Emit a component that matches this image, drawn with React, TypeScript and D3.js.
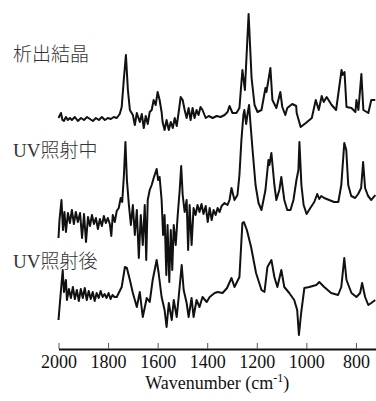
import * as React from "react";
import * as d3 from "d3";

type Pt = [number, number];

const xTicks = [2000, 1800, 1600, 1400, 1200, 1000, 800];
const seriesNames = ["析出結晶", "UV照射中", "UV照射後"];

// [wavenumber, intensity (a.u.)]
const crystal: Pt[] = [
  [2000, 0], [1990, 5], [1984, -2], [1978, -3], [1970, 1], [1962, -2], [1954, 0], [1946, -2],
  [1934, 1], [1922, -3], [1909, 0], [1897, -2], [1885, 1], [1873, -1], [1861, -3], [1849, 0],
  [1837, -2], [1825, 1], [1813, -2], [1801, 0], [1789, -1], [1777, 1], [1765, 0], [1753, 4],
  [1745, 11], [1736, 40], [1728, 63], [1720, 28], [1712, 8], [1700, 3], [1692, -7], [1684, 5],
  [1672, -4], [1664, 4], [1656, -10], [1648, 2], [1640, -6], [1632, 6], [1624, 8], [1616, 18],
  [1608, 13], [1600, 26], [1592, 18], [1584, 6], [1580, -4], [1572, -12], [1564, -2], [1555, -12],
  [1547, -4], [1539, -10], [1531, 0], [1523, -8], [1515, 6], [1507, 21], [1499, 18], [1491, 8],
  [1483, 0], [1475, 10], [1467, -2], [1459, 10], [1451, 0], [1443, 8], [1435, 3], [1427, 11],
  [1419, 8], [1406, 0], [1394, 2], [1378, 0], [1362, 2], [1346, 1], [1330, 3], [1318, 6],
  [1310, 12], [1298, 5], [1282, 5], [1270, 10], [1258, 48], [1248, 28], [1233, 104], [1221, 40],
  [1209, 13], [1197, 6], [1181, 8], [1165, 30], [1161, 26], [1145, 50], [1137, 18], [1121, 10],
  [1105, 26], [1097, 11], [1085, 3], [1077, 10], [1057, 14], [1041, 12], [1039, 5], [1023, -9],
  [1002, -5], [978, 0], [962, 18], [950, 8], [938, 22], [930, 16], [918, 21], [898, 13],
  [880, 8], [858, 48], [854, 43], [846, 46], [838, 11], [818, 10], [802, 6], [798, 18],
  [790, 8], [778, 44], [770, 8], [750, 5], [738, 18], [722, 18],
];

const uvDuring: Pt[] = [
  [2000, -18], [1996, 0], [1988, 20], [1982, -10], [1976, 8], [1970, -12], [1962, 7], [1954, -3],
  [1946, 10], [1938, -4], [1930, 8], [1922, -2], [1913, 7], [1905, -18], [1897, 6], [1889, -22],
  [1881, 3], [1873, -6], [1865, 5], [1857, -4], [1849, 2], [1841, -9], [1833, 1], [1825, -6],
  [1817, 4], [1809, -3], [1801, 2], [1793, -4], [1787, -16], [1781, 5], [1773, -2], [1765, 9],
  [1757, 12], [1749, 22], [1743, 18], [1736, 45], [1730, 78], [1724, 40], [1716, 15], [1708, -5],
  [1700, 15], [1692, -15], [1684, 10], [1676, -38], [1668, 5], [1660, -25], [1652, 15], [1646, -40],
  [1640, 20], [1632, 30], [1624, 35], [1616, 42], [1604, 51], [1598, 40], [1592, 43], [1584, 20],
  [1578, -15], [1572, 5], [1565, -55], [1560, -5], [1553, -62], [1547, -10], [1541, -50], [1535, -5],
  [1527, -25], [1519, 5], [1511, 30], [1505, 54], [1499, 25], [1491, 8], [1483, 20], [1477, -30],
  [1471, 15], [1463, -25], [1455, 12], [1447, 5], [1439, 15], [1431, 8], [1423, 16], [1415, 6],
  [1406, 14], [1398, -2], [1390, 12], [1382, 0], [1374, 10], [1366, 5], [1358, 12], [1350, 8],
  [1342, 14], [1330, 17], [1318, 15], [1310, 20], [1302, 32], [1290, 20], [1278, 25], [1270, 45],
  [1262, 80], [1254, 105], [1250, 110], [1243, 96], [1236, 108], [1231, 115], [1225, 95], [1217, 70],
  [1205, 35], [1193, 17], [1181, 10], [1165, 30], [1153, 60], [1149, 55], [1141, 67], [1129, 35],
  [1121, 20], [1109, 30], [1101, 43], [1089, 20], [1077, 10], [1064, 10], [1052, 20], [1040, 40],
  [1032, 50], [1028, 78], [1020, 35], [1011, 15], [999, 6], [984, 12], [968, 18], [956, 26],
  [948, 21], [940, 24], [928, 22], [908, 20], [888, 18], [871, 18], [859, 35], [847, 77],
  [839, 70], [831, 35], [819, 24], [803, 22], [791, 26], [779, 32], [771, 58], [763, 32],
  [751, 24], [738, 20], [722, 25],
];

const uvAfter: Pt[] = [
  [2000, -25], [1994, -7], [1983, 25], [1978, 3], [1970, 15], [1966, -5], [1958, 6], [1950, -3],
  [1942, 8], [1934, -4], [1926, 5], [1918, -6], [1910, 6], [1902, -3], [1894, 7], [1886, -5],
  [1878, 4], [1870, -4], [1862, 3], [1854, -6], [1846, 2], [1838, -3], [1830, 4], [1822, -2],
  [1814, 1], [1806, -3], [1798, 2], [1790, -4], [1782, 0], [1774, -2], [1765, -2], [1757, 2],
  [1745, 8], [1732, 28], [1724, 27], [1712, 15], [1700, 2], [1684, -12], [1672, 3], [1660, -22],
  [1644, -3], [1632, -7], [1620, 15], [1604, 35], [1596, 22], [1584, -2], [1572, -15], [1564, -32],
  [1555, -8], [1543, -25], [1535, -5], [1523, -22], [1515, -2], [1503, 30], [1495, 5], [1483, -8],
  [1475, -22], [1463, -3], [1455, -22], [1443, -5], [1431, -12], [1419, -2], [1402, -7], [1390, -2],
  [1370, 2], [1358, 3], [1338, 2], [1320, 7], [1302, 17], [1290, 8], [1270, 18], [1258, 72],
  [1252, 73], [1240, 65], [1223, 48], [1203, 22], [1181, 5], [1169, 3], [1157, 28], [1141, 35],
  [1129, 18], [1117, 8], [1101, 25], [1089, 8], [1069, 2], [1049, -5], [1037, -15], [1030, -40],
  [1021, -18], [1008, 7], [988, 8], [960, 10], [948, 13], [928, 8], [900, 2], [872, 0],
  [859, 8], [847, 37], [838, 15], [818, 2], [798, -2], [783, 2], [775, 12], [763, -2],
  [750, -10], [738, -8], [722, -5],
];

const allSeries = [crystal, uvDuring, uvAfter];

export default function App() {
  const ref = React.useRef<HTMLDivElement | null>(null);
  React.useEffect(() => {
    const width = 376;
    const height = 401;
    const axisY = 349;
    const serif = "Liberation Serif";
    const jp = "Liberation Serif, Noto Sans CJK JP";

    const svg = d3
      .select(ref.current)
      .append("svg")
      .attr("width", width)
      .attr("height", height)
      .style("position", "absolute")
      .style("left", 0)
      .style("top", 0)
      .style("background", "#fff");

    const xScale = d3.scaleLinear([2000, 719], [58.5, width]);
    const yScale = d3.scaleLinear([-54, 295], [axisY, 0]);
    // vertical stacking of spectra
    const offsets = [177, 75, 0];

    const plot = svg.append("g");
    allSeries.forEach((data, i) => {
      const line = d3
        .line<Pt>()
        .x((d) => xScale(d[0]))
        .y((d) => yScale(d[1] + offsets[i]));
      plot
        .append("path")
        .datum(data)
        .attr("d", line)
        .attr("fill", "none")
        .attr("stroke", "#111")
        .attr("stroke-width", 2)
        .attr("stroke-linejoin", "round");
    });

    // labels
    const labelY = [61, 157, 268];
    svg
      .selectAll(".seriesLabel")
      .data(seriesNames)
      .enter()
      .append("text")
      .attr("x", 13)
      .attr("y", (_, i) => labelY[i])
      .attr("font-family", jp)
      .attr("font-size", 19)
      .attr("font-weight", 300)
      .attr("fill", "#333")
      .text((d) => d);

    // x axis
    const xAxis = d3
      .axisBottom(xScale)
      .tickValues(xTicks)
      .tickSizeInner(-6)
      .tickSizeOuter(0)
      .tickPadding(14)
      .tickFormat((d) => d.toString());
    const xAxisG = svg
      .append("g")
      .attr("transform", `translate(0,${axisY})`)
      .call(xAxis);
    xAxisG.attr("font-family", serif).attr("font-size", 18);
    xAxisG.select(".domain").attr("stroke", "#111").attr("stroke-width", 2);
    xAxisG.selectAll(".tick line").attr("stroke", "#555").attr("stroke-width", 1);
    xAxisG
      .selectAll(".tick text")
      .attr("fill", "#111")
      .attr("dy", "0.3em");

    const title = svg
      .append("text")
      .attr("x", (58.5 + width) / 2)
      .attr("y", 389)
      .attr("text-anchor", "middle")
      .attr("font-family", serif)
      .attr("font-size", 18)
      .attr("fill", "#111");
    title.append("tspan").text("Wavenumber (cm");
    title.append("tspan").attr("font-size", 12).attr("dy", -7).text("-1");
    title.append("tspan").attr("dy", 7).text(")");

    return function cleanup() {
      // eslint-disable-next-line react-hooks/exhaustive-deps
      d3.select(ref.current).selectAll("svg").remove();
    };
  }, []);

  return <div ref={ref}></div>;
}
